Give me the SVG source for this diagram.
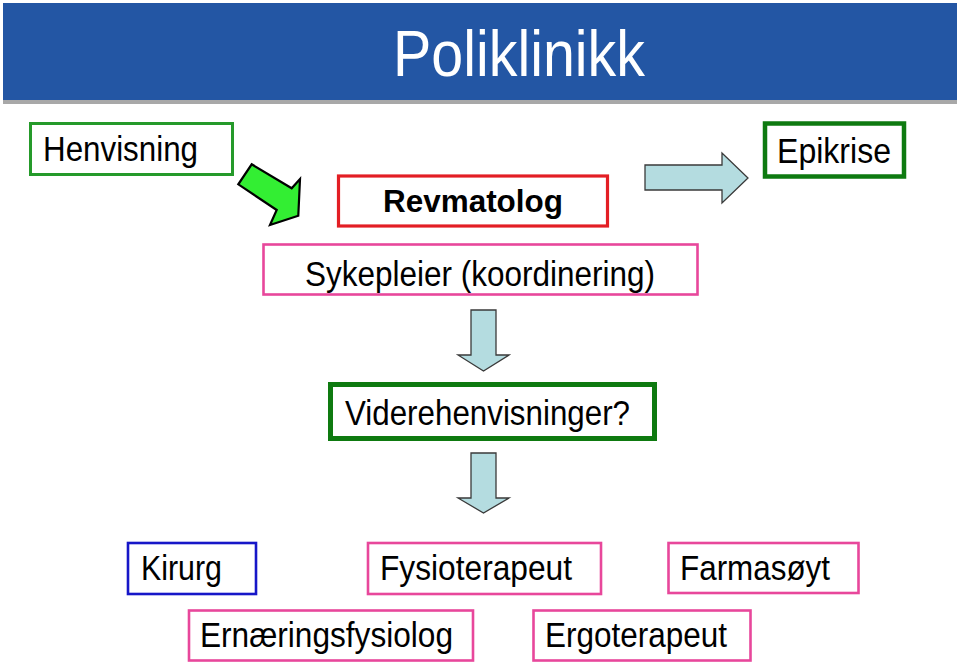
<svg xmlns="http://www.w3.org/2000/svg" width="960" height="666" viewBox="0 0 960 666">
<style>
.t{font-family:"Liberation Sans",Arial,sans-serif;font-size:35px;fill:#000}
.b{font-weight:bold;font-size:31px}
.box{fill:#fff}
.pink{stroke:#E8479B;stroke-width:2.6}
.barrow{fill:#B4DCE0;stroke:#3A3A3A;stroke-width:1.3;stroke-linejoin:miter}
</style>
<rect x="0" y="0" width="960" height="666" fill="#fff"/>
<g id="title">
<rect x="3" y="100" width="954" height="4" fill="#A8A8A8"/>
<rect x="3" y="3" width="954" height="97" fill="#2356A4"/>
<text x="393" y="76" font-family="Liberation Sans,Arial,sans-serif" font-size="64" fill="#fff" textLength="252" lengthAdjust="spacingAndGlyphs">Poliklinikk</text>
</g>
<g id="connectors">
<polygon points="251.7,164.3 291.7,188.3 300,179 298.3,215.7 270,225 276.7,210 238.3,184.3" fill="#33EE33" stroke="#000" stroke-width="2.2" stroke-linejoin="miter"/>
<polygon class="barrow" points="645,165 722,165 722,153 748,178 722,203 722,190 645,190"/>
<polygon class="barrow" points="471,310 496,310 496,355 509,355 483.5,371 458,355 471,355"/>
<polygon class="barrow" points="471,453 496,453 496,498 509,498 483.5,513 458,498 471,498"/>
</g>
<g id="henvisning">
<rect class="box" x="30.5" y="123.5" width="202" height="51" stroke="#259A2A" stroke-width="3"/>
<text class="t" x="43" y="161" textLength="155" lengthAdjust="spacingAndGlyphs">Henvisning</text>
</g>
<g id="revmatolog">
<rect class="box" x="338.5" y="176" width="269" height="50" stroke="#E31E24" stroke-width="3.2"/>
<text class="t b" x="383" y="212" textLength="180" lengthAdjust="spacingAndGlyphs">Revmatolog</text>
</g>
<g id="epikrise">
<rect class="box" x="765" y="123.5" width="139" height="53" stroke="#0E7A10" stroke-width="4.5"/>
<text class="t" x="777" y="163" textLength="114" lengthAdjust="spacingAndGlyphs">Epikrise</text>
</g>
<g id="sykepleier">
<rect class="box pink" x="263.5" y="244.5" width="434" height="50"/>
<text class="t" x="305" y="286" textLength="350" lengthAdjust="spacingAndGlyphs">Sykepleier (koordinering)</text>
</g>
<g id="viderehenvisninger">
<rect class="box" x="330.5" y="384.5" width="324" height="54" stroke="#0E7A10" stroke-width="5"/>
<text class="t" x="345" y="425" textLength="285" lengthAdjust="spacingAndGlyphs">Viderehenvisninger?</text>
</g>
<g id="kirurg">
<rect class="box" x="128" y="543" width="128" height="51" stroke="#1616C8" stroke-width="2.6"/>
<text class="t" x="141" y="580" textLength="81" lengthAdjust="spacingAndGlyphs">Kirurg</text>
</g>
<g id="fysioterapeut">
<rect class="box pink" x="368" y="543" width="233" height="51"/>
<text class="t" x="380" y="580" textLength="192" lengthAdjust="spacingAndGlyphs">Fysioterapeut</text>
</g>
<g id="farmasoyt">
<rect class="box pink" x="668.5" y="543" width="190" height="50"/>
<text class="t" x="680" y="579.5" textLength="150" lengthAdjust="spacingAndGlyphs">Farmasøyt</text>
</g>
<g id="ernaeringsfysiolog">
<rect class="box pink" x="189" y="610.5" width="284" height="50"/>
<text class="t" x="200" y="647" textLength="253" lengthAdjust="spacingAndGlyphs">Ernæringsfysiolog</text>
</g>
<g id="ergoterapeut">
<rect class="box pink" x="533.5" y="610.5" width="217" height="50"/>
<text class="t" x="545" y="647" textLength="182" lengthAdjust="spacingAndGlyphs">Ergoterapeut</text>
</g>
</svg>
